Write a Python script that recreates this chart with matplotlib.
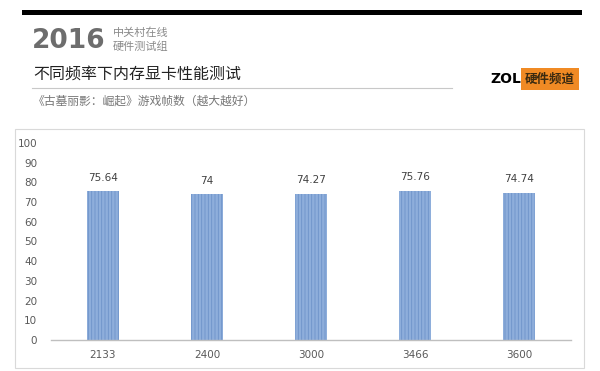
import matplotlib
matplotlib.use("Agg")
import matplotlib.pyplot as plt
from matplotlib.patches import Rectangle

plt.rcParams['font.family'] = ['Noto Sans CJK SC', 'DejaVu Sans']
plt.rcParams['hatch.linewidth'] = 0.6

# Data
frequencies = ["2133", "2400", "3000", "3466", "3600"]
fps = [75.64, 74, 74.27, 75.76, 74.74]
value_labels = ["75.64", "74", "74.27", "75.76", "74.74"]
y_ticks = [0, 10, 20, 30, 40, 50, 60, 70, 80, 90, 100]

W, H = 600, 371
fig = plt.figure(figsize=(W / 100, H / 100), dpi=100)
fig.patch.set_facecolor("white")

def fx(px):
    return px / W

def fy(py):
    return 1 - py / H

# Header: thick black rule
fig.add_artist(Rectangle((fx(22), fy(15)), fx(560), 5 / H, transform=fig.transFigure,
                         facecolor="black", edgecolor="none"))
fig.text(fx(32), fy(41), "2016", fontsize=19, fontweight="bold", color="#6d6d6d",
         family=["DejaVu Sans"], va="center", ha="left")
fig.text(fx(113), fy(33), "中关村在线", fontsize=8, color="#8a8a8a", va="center", ha="left")
fig.text(fx(113), fy(47), "硬件测试组", fontsize=8, color="#8a8a8a", va="center", ha="left")
fig.text(fx(33), fy(74), "不同频率下内存显卡性能测试", fontsize=11.5, color="#222222",
         va="center", ha="left")
fig.add_artist(plt.Line2D([fx(32), fx(452)], [fy(88), fy(88)], transform=fig.transFigure,
                          color="#c8c8c8", lw=0.8))
fig.text(fx(33), fy(101), "《古墓丽影：崛起》游戏帧数（越大越好）", fontsize=8.5, color="#777777",
         va="center", ha="left")

# ZOL channel badge
fig.text(fx(490), fy(79), "ZOL", fontsize=10, fontweight="bold", color="black",
         family=["DejaVu Sans"], va="center", ha="left")
fig.add_artist(Rectangle((fx(521), fy(90)), fx(58), 22 / H, transform=fig.transFigure,
                         facecolor="#f08a24", edgecolor="none"))
fig.text(fx(550), fy(79), "硬件频道", fontsize=9, fontweight="bold", color="#3a2a10",
         va="center", ha="center")

# Chart frame
fig.add_artist(Rectangle((fx(15), fy(368)), fx(569), 239 / H, transform=fig.transFigure,
                         facecolor="none", edgecolor="#d9d9d9", lw=0.8))

# Bar chart
ax = fig.add_axes([fx(51), fy(340), fx(520), (340 - 143) / H])
x = list(range(len(frequencies)))
bars = ax.bar(x, fps, width=0.31, color="#8eaedb", edgecolor="#5b82bd",
              hatch="|||||", linewidth=0)
for b in bars:
    b.set_edgecolor("#6d93c9")
ax.set_xlim(-0.5, len(frequencies) - 0.5)
ax.set_ylim(0, 100)
ax.set_yticks(y_ticks)
ax.set_xticks(x)
ax.set_xticklabels(frequencies)
ax.tick_params(axis="both", length=0, labelsize=7.5, labelcolor="#595959")
ax.tick_params(axis="y", pad=10)
ax.tick_params(axis="x", pad=7)
for lbl in ax.get_xticklabels() + ax.get_yticklabels():
    lbl.set_family(["DejaVu Sans"])
for side in ["top", "right", "left"]:
    ax.spines[side].set_visible(False)
ax.spines["bottom"].set_color("#bfbfbf")
ax.spines["bottom"].set_linewidth(1.0)
ax.set_facecolor("none")

for xi, v, t in zip(x, fps, value_labels):
    ax.annotate(t, (xi, v), xytext=(0, 6), textcoords="offset points", ha="center",
                va="bottom", fontsize=7.5, color="#404040", family=["DejaVu Sans"])

fig.savefig("out.png", dpi=100, facecolor="white")
